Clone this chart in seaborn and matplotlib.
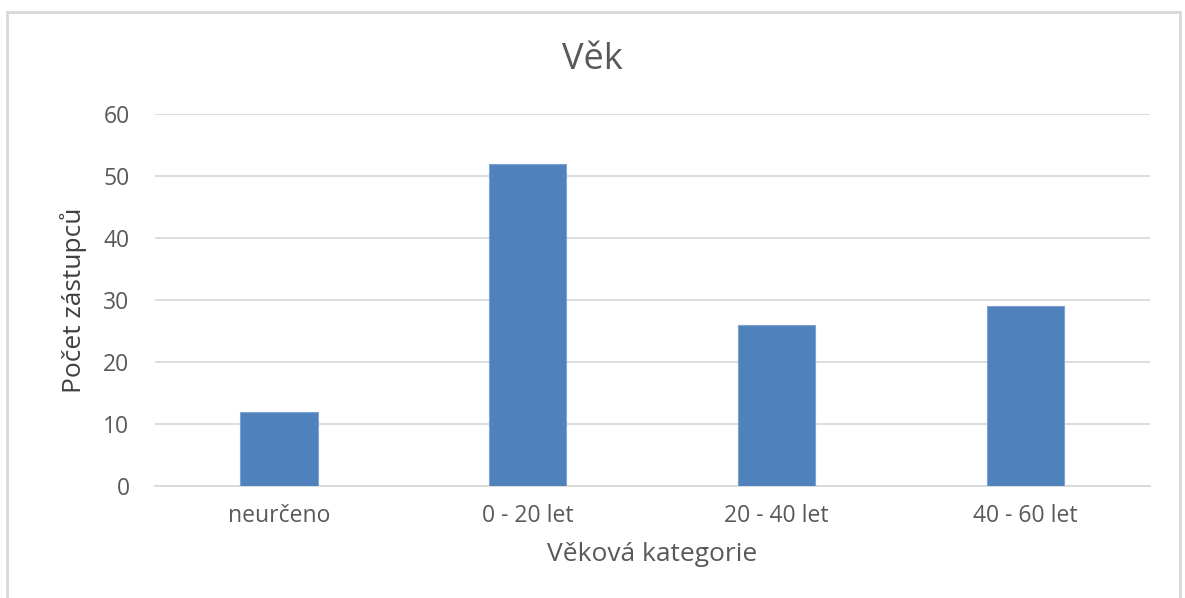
import matplotlib
matplotlib.use("Agg")
import matplotlib.pyplot as plt
import seaborn as sns
import pandas as pd
from matplotlib.patches import Rectangle

# data
categories = ["neurčeno", "0 - 20 let", "20 - 40 let", "40 - 60 let"]
counts = [12, 52, 26, 29]
yticks = [0, 10, 20, 30, 40, 50, 60]

df = pd.DataFrame({"kategorie": categories, "pocet": counts})

sns.set_theme(style="white")
plt.rcParams["font.family"] = ["Open Sans", "DejaVu Sans"]

fig = plt.figure(figsize=(11.85, 5.98), dpi=100)
ax = fig.add_axes([0.1304, 0.1873, 0.8401, 0.6221])

sns.barplot(data=df, x="kategorie", y="pocet", color="#4F81BD", width=0.31,
            saturation=1, edgecolor="#7FA3CF", linewidth=0.8, ax=ax, zorder=3)

ax.set_ylim(0, 60)
ax.set_xlim(-0.5, len(categories) - 0.5)
ax.set_yticks(yticks)
ax.yaxis.grid(True, color="#D9D9D9", linewidth=1.3, zorder=0)
ax.set_axisbelow(True)
for side in ["top", "right", "left"]:
    ax.spines[side].set_visible(False)
ax.spines["bottom"].set_color("#D9D9D9")
ax.spines["bottom"].set_linewidth(1.3)
ax.tick_params(axis="both", length=0, labelsize=16.5, labelcolor="#595959")
ax.tick_params(axis="y", pad=18)
ax.tick_params(axis="x", pad=13)

ax.set_xlabel("Věková kategorie", fontsize=19, color="#595959", labelpad=10)
ax.set_ylabel("Počet zástupců", fontsize=19, color="#404040", labelpad=12)
fig.text(0.5, 0.9, "Věk", ha="center", va="center", fontsize=26, color="#595959")

# chart frame like an Excel chart area
fig.patches.append(Rectangle((7 / 1185, -0.1), 1173 / 1185, 1.1 - 12 / 598,
                             transform=fig.transFigure, fill=False,
                             edgecolor="#D9D9D9", linewidth=2))

fig.savefig("out.png", dpi=100)
